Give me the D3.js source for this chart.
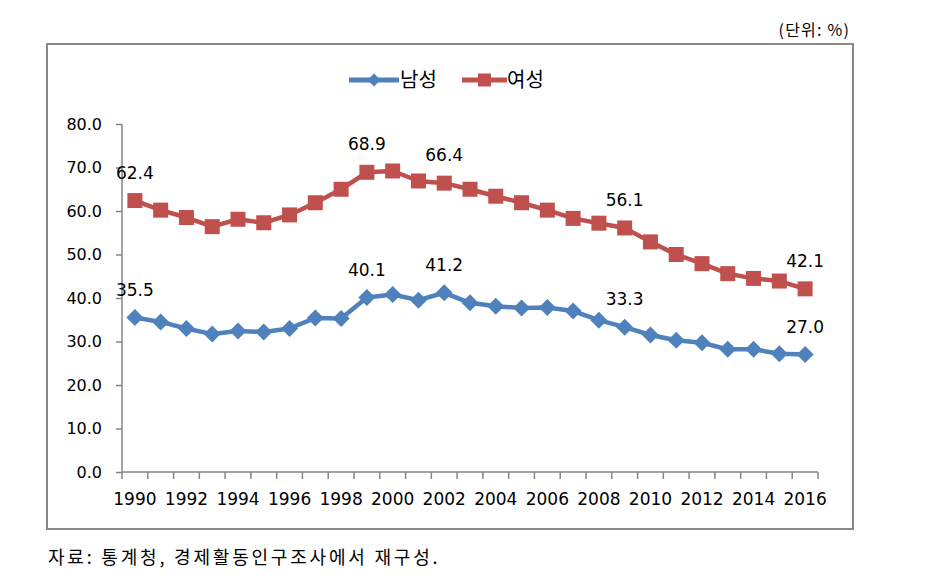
<!DOCTYPE html>
<html><head><meta charset="utf-8">
<script src="https://cdn.jsdelivr.net/npm/d3@7"></script>
<style>
html,body{margin:0;padding:0;background:#fff;}
svg{display:block;}
</style></head>
<body>
<svg id="chart" width="932" height="578"></svg>
<script>
const years = d3.range(1990, 2017).map(String);
const xTickLabels = ["1990","1992","1994","1996","1998","2000","2002","2004","2006","2008","2010","2012","2014","2016"];
const yTicks = [0,10,20,30,40,50,60,70,80];
const male = [35.5,34.5,33.0,31.7,32.4,32.2,33.0,35.4,35.3,40.1,40.8,39.5,41.2,38.9,38.1,37.7,37.8,37.0,34.9,33.3,31.5,30.3,29.7,28.2,28.2,27.2,27.0];
const female = [62.4,60.2,58.5,56.4,58.1,57.3,59.1,61.9,65.0,68.9,69.2,66.9,66.4,65.0,63.4,61.9,60.2,58.3,57.2,56.1,52.9,50.0,47.9,45.6,44.5,43.9,42.1];
const maleLabelYears = ["1990","1999","2002","2009","2016"];
const femaleLabelYears = ["1990","1999","2002","2009","2016"];
const seriesNames = ["남성","여성"];
const colors = ["#4F81BD","#C0504D"];
const unitText = "(단위: %)";
const sourceText = "자료: 통계청, 경제활동인구조사에서 재구성.";

const svg = d3.select("#chart");
const numFont = "'DejaVu Sans', Verdana, sans-serif";
const krFont = "'Noto Sans CJK KR', 'Noto Sans', sans-serif";

// outer box
svg.append("rect").attr("x",47).attr("y",44).attr("width",806).attr("height",485)
  .attr("fill","#fff").attr("stroke","#898989").attr("stroke-width",2);

svg.append("text").attr("x",850).attr("y",36).attr("text-anchor","end")
  .attr("font-family",krFont).attr("font-size",16).attr("letter-spacing",1.2).attr("fill","#000").text(unitText);

svg.append("text").attr("x",48).attr("y",564)
  .attr("font-family",krFont).attr("font-size",18).attr("fill","#000")
  .attr("letter-spacing",2.8).text(sourceText);

const x = d3.scaleBand().domain(years).range([122,818]);
const y = d3.scaleLinear().domain([0,80]).range([472,124]);

// y axis
const yAxis = svg.append("g").attr("transform","translate(122,0)")
  .call(d3.axisLeft(y).tickValues(yTicks).tickFormat(d3.format(".1f")).tickSize(6).tickPadding(14));
yAxis.selectAll("path,line").attr("stroke","#868686").attr("stroke-width",1.5);
yAxis.select("path").attr("d","M0,124V472");
yAxis.selectAll("text").attr("font-family",numFont).attr("font-size",16).attr("fill","#000");

// x axis
const xAxis = svg.append("g").attr("transform","translate(0,472)")
  .call(d3.axisBottom(x).tickValues(xTickLabels).tickSize(0).tickPadding(21));
xAxis.select("path").attr("stroke","#868686").attr("stroke-width",1.5).attr("d","M122,0H818");
xAxis.selectAll("text").attr("font-family",numFont).attr("font-size",17).attr("fill","#000")
  .attr("dy","0.32em").attr("y",28);
// boundary ticks
const bounds = years.map(d => x(d)).concat([x(years[years.length-1]) + x.bandwidth()]);
svg.append("g").selectAll("line").data(bounds).join("line")
  .attr("x1",d=>d).attr("x2",d=>d).attr("y1",472).attr("y2",479)
  .attr("stroke","#868686").attr("stroke-width",1.5);

const cx = d => x(d) + x.bandwidth()/2;

const diamond = {draw(ctx,size){const r=Math.sqrt(size)/2;ctx.moveTo(0,-r);ctx.lineTo(r,0);ctx.lineTo(0,r);ctx.lineTo(-r,0);ctx.closePath();}};
const symbols = [d3.symbol().type(diamond).size(17*17)(), d3.symbol().type(d3.symbolSquare).size(15*15)()];

const series = [male, female];
const labelYears = [maleLabelYears, femaleLabelYears];
series.forEach((vals, si) => {
  const line = d3.line().x((d,i)=>cx(years[i])).y(d=>y(d));
  svg.append("path").datum(vals).attr("d",line).attr("fill","none")
    .attr("stroke",colors[si]).attr("stroke-width",4.5).attr("stroke-linejoin","round");
  svg.append("g").selectAll("path").data(vals).join("path")
    .attr("d",symbols[si]).attr("fill",colors[si])
    .attr("transform",(d,i)=>`translate(${cx(years[i])},${y(d)})`);
  svg.append("g").selectAll("text").data(vals.map((v,i)=>({v,yr:years[i]})).filter(d=>labelYears[si].includes(d.yr)))
    .join("text").attr("x",d=>cx(d.yr)).attr("y",d=>y(d.v)-28).attr("dy","0.35em")
    .attr("text-anchor","middle").attr("font-family",numFont).attr("font-size",17).attr("fill","#000")
    .text(d=>d.v.toFixed(1));
});

// legend
const legend = [{x1:349,x2:399,tx:400},{x1:462,x2:507,tx:507}];
legend.forEach((l,si)=>{
  svg.append("line").attr("x1",l.x1).attr("x2",l.x2).attr("y1",80).attr("y2",80)
    .attr("stroke",colors[si]).attr("stroke-width",5);
  svg.append("path").attr("d",si===0 ? d3.symbol().type(diamond).size(13*13)() : d3.symbol().type(d3.symbolSquare).size(13*13)())
    .attr("fill",colors[si]).attr("transform",`translate(${(l.x1+l.x2)/2},80)`);
  svg.append("text").attr("x",l.tx).attr("y",80).attr("dy","0.36em")
    .attr("font-family",krFont).attr("font-size",20).attr("fill","#000").text(seriesNames[si]);
});
</script>
</body></html>
